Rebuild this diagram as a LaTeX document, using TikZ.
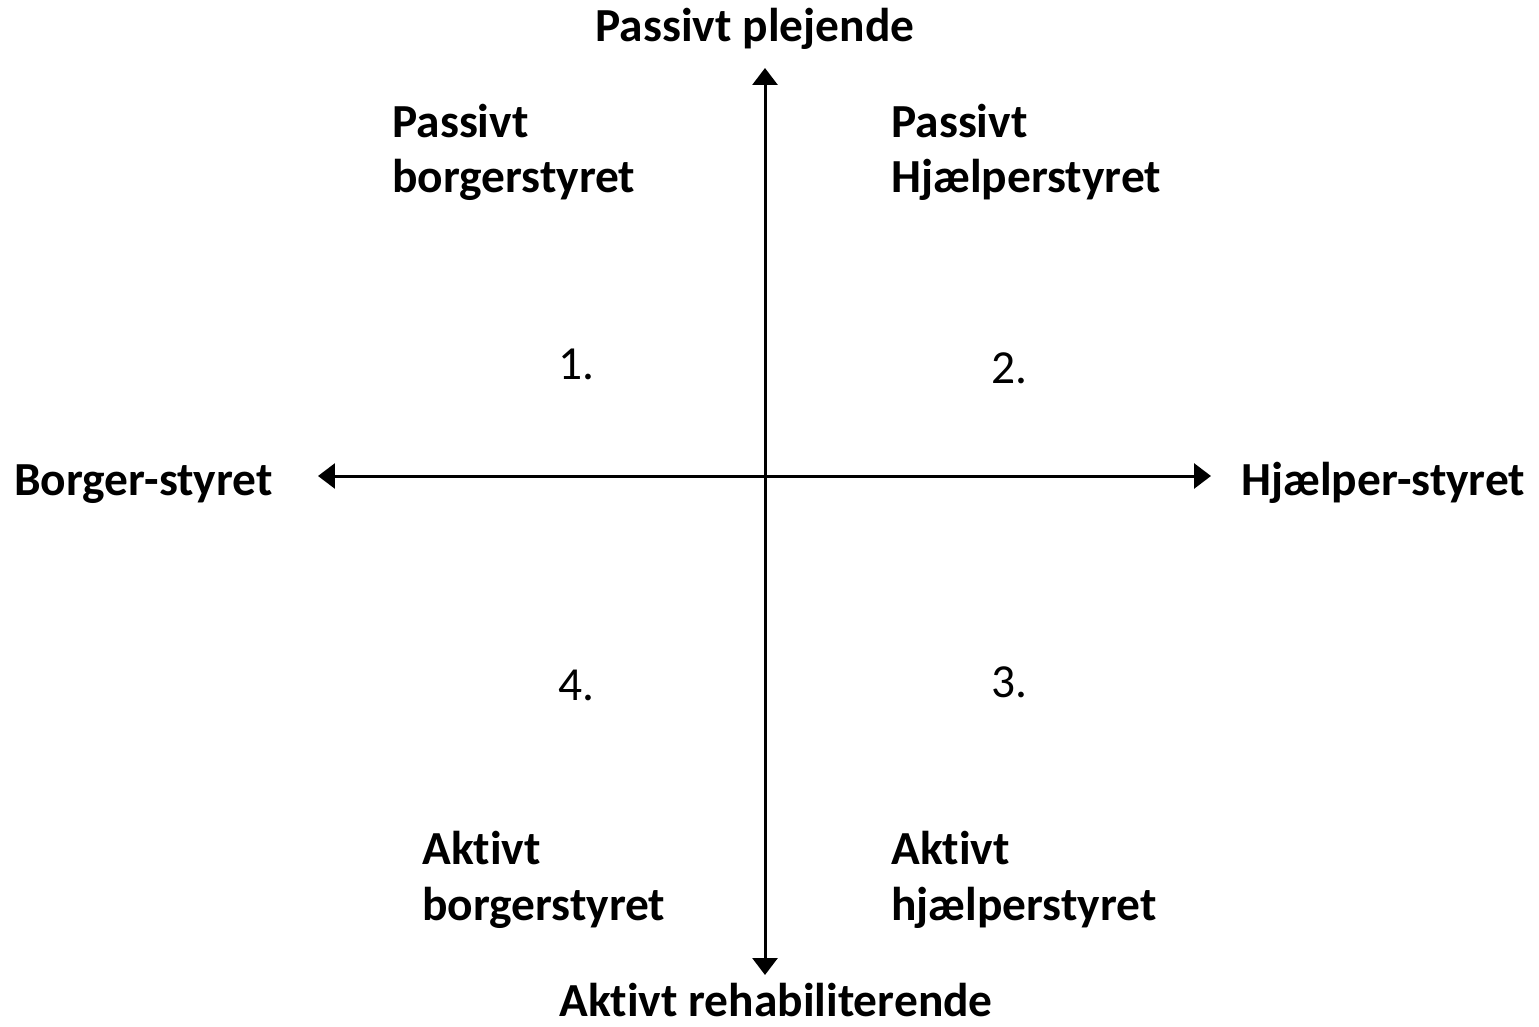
\documentclass[tikz,border=0pt]{standalone}
\usepackage{fontspec}
\setmainfont{Carlito}[RawFeature=-liga]
\usetikzlibrary{arrows.meta}
\tikzset{
  ax/.style={{Triangle[length=0.34cm, width=0.5cm]}-{Triangle[length=0.34cm, width=0.5cm]}, line width=0.06cm},
  lab/.style={font=\fontsize{27pt}{31.8pt}\selectfont\bfseries, inner sep=0pt, align=left},
  num/.style={font=\fontsize{27pt}{31.8pt}\selectfont, inner sep=0pt, anchor=base west}
}

\begin{document}
\begin{tikzpicture}[x=0.02cm, y=-0.02cm]
		\useasboundingbox (0,0) rectangle (1539,1027);
		\coordinate (top) at (765,68);
		\coordinate (bot) at (765,975);
		\coordinate (lft) at (318,476);
		\coordinate (rgt) at (1211,476);
		\draw[ax] (top) -- (bot);
		\draw[ax] (lft) -- (rgt);
		% axis ends
		\node[lab, anchor=base] (pp) at (755,42) {Passivt plejende};
		\node[lab, anchor=base] (ar) at (776,1016) {Aktivt rehabiliterende};
		\node[lab, anchor=base west] (bs) at (14,495) {Borger-styret};
		\node[lab, anchor=base west] (hs) at (1241,495) {Hjælper-styret};
		% quadrants
		\node[lab, anchor=base west] (q1) at (392,193) {Passivt\\borgerstyret};
		\node[lab, anchor=base west] (q2) at (891,193) {Passivt\\Hjælperstyret};
		\node[lab, anchor=base west] (q3) at (891,920) {Aktivt\\hjælperstyret};
		\node[lab, anchor=base west] (q4) at (422,920) {Aktivt\\borgerstyret};
		\node[num] (n1) at (558,379) {1.};
		\node[num] (n2) at (991,383) {2.};
		\node[num] (n3) at (991,697) {3.};
		\node[num] (n4) at (558,700) {4.};
	\end{tikzpicture}
\end{document}
